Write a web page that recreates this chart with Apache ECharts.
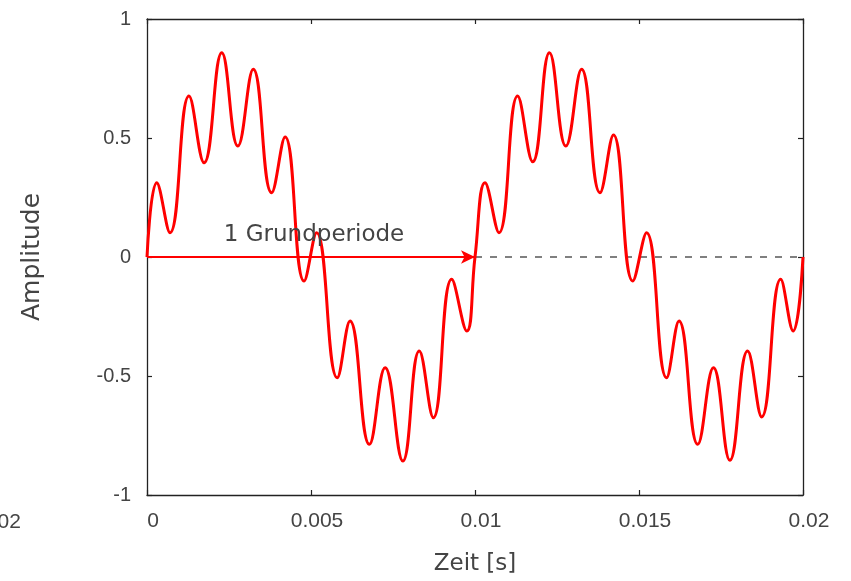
<!DOCTYPE html>
<html>
<head>
<meta charset="utf-8">
<script src="https://cdn.jsdelivr.net/npm/echarts@6/dist/echarts.min.js"></script>
<style>html,body{margin:0;padding:0;background:#fff}#c{width:851px;height:581px}</style>
</head>
<body>
<div id="c"></div>
<script>
// time [s] and amplitude read at peaks/troughs from the picture
var timeS = [0, 0.000296, 0.000701, 0.00128, 0.00174, 0.00228, 0.00277, 0.00324, 0.0038, 0.00421, 0.00479, 0.00517, 0.0058, 0.00619, 0.00678, 0.00726, 0.0078, 0.0083, 0.00873, 0.00929, 0.00975,
             0.01, 0.010305, 0.01073, 0.0113, 0.01176, 0.01227, 0.01277, 0.01325, 0.01381, 0.01422, 0.01481, 0.01523, 0.01584, 0.01622, 0.01679, 0.01727, 0.01777, 0.01831, 0.01874, 0.01932, 0.0197, 0.02];
var amplitude = [0, 0.312, 0.102, 0.676, 0.396, 0.858, 0.466, 0.789, 0.27, 0.504, -0.101, 0.102, -0.507, -0.269, -0.787, -0.465, -0.857, -0.395, -0.675, -0.094, -0.311,
                 0, 0.312, 0.102, 0.676, 0.40, 0.858, 0.466, 0.789, 0.27, 0.513, -0.101, 0.102, -0.507, -0.269, -0.787, -0.465, -0.854, -0.395, -0.672, -0.094, -0.311, 0];
var xTicks = ['0', '0.005', '0.01', '0.015', '0.02'];
var yTicks = ['-1', '-0.5', '0', '0.5', '1'];
var periodStart = 0, periodEnd = 0.01, signalEnd = 0.02;
var periodLabel = '1 Grundperiode';

var sig = timeS.map(function (t, i) { return [t, amplitude[i]]; });
var font = '"DejaVu Sans", sans-serif';
var tickFont = '"Liberation Sans", Arial, sans-serif';
var chart = echarts.init(document.getElementById('c'));
var axisLine = { show: true, onZero: false, lineStyle: { color: '#222', width: 1.3 } };
var tick = { show: true, inside: true, length: 5, lineStyle: { color: '#222', width: 1.2 } };
chart.setOption({
  animation: false,
  grid: { left: 147, right: 48, top: 19, bottom: 86, containLabel: false },
  xAxis: [{
    type: 'value', min: 0, max: 0.02, interval: 0.005,
    axisLine: axisLine, axisTick: tick, splitLine: { show: false },
    axisLabel: { margin: 16, fontSize: 21, color: '#444', fontFamily: tickFont, padding: [0, 0, 0, 12],
      formatter: function (v) { return xTicks[Math.round(v / 0.005)]; } },
    name: 'Zeit [s]', nameLocation: 'middle', nameGap: 58,
    nameTextStyle: { fontSize: 23, color: '#444', fontFamily: font }
  }, {
    type: 'value', position: 'top', min: 0, max: 0.02, interval: 0.005,
    axisLine: axisLine, axisTick: tick, axisLabel: { show: false }, splitLine: { show: false }
  }],
  yAxis: [{
    type: 'value', min: -1, max: 1, interval: 0.5,
    axisLine: axisLine, axisTick: tick, splitLine: { show: false },
    axisLabel: { margin: 16, fontSize: 20, color: '#444', fontFamily: tickFont,
      formatter: function (v) { return yTicks[Math.round((v + 1) / 0.5)]; } },
    name: 'Amplitude', nameLocation: 'middle', nameGap: 102, nameRotate: 90,
    nameTextStyle: { fontSize: 25, color: '#444', fontFamily: font }
  }, {
    type: 'value', position: 'right', min: -1, max: 1, interval: 0.5,
    axisLine: axisLine, axisTick: tick, axisLabel: { show: false }, splitLine: { show: false }
  }],
  series: [{
    type: 'line', data: [[periodEnd, 0], [signalEnd, 0]], symbol: 'none',
    lineStyle: { color: '#808080', width: 2, type: [7, 8] }, z: 1
  }, {
    type: 'line', data: sig, smooth: 0.45, symbol: 'none',
    lineStyle: { color: '#ff0000', width: 3 }, z: 3
  }, {
    type: 'line', data: [[periodStart, 0], [periodEnd, 0]], symbol: 'none',
    lineStyle: { color: '#ff0000', width: 2 }, z: 2,
    markLine: {
      silent: true, symbol: ['none', 'arrow'], symbolSize: [10, 14],
      label: { show: false },
      lineStyle: { color: '#ff0000', width: 2.2, type: 'solid' },
      data: [[{ coord: [periodStart, 0] }, { coord: [periodEnd, 0] }]]
    },
    markPoint: {
      silent: true, symbol: 'circle', symbolSize: 0,
      label: { show: true, formatter: periodLabel, fontSize: 23, color: '#444', fontFamily: font, offset: [3, -22] },
      data: [{ coord: [0.005, 0] }]
    }
  }],
  graphic: [{
    type: 'text', left: -20, top: 512,
    style: { text: '0.02', fontSize: 21, fill: '#444', fontFamily: tickFont }
  }]
});
</script>
</body>
</html>
